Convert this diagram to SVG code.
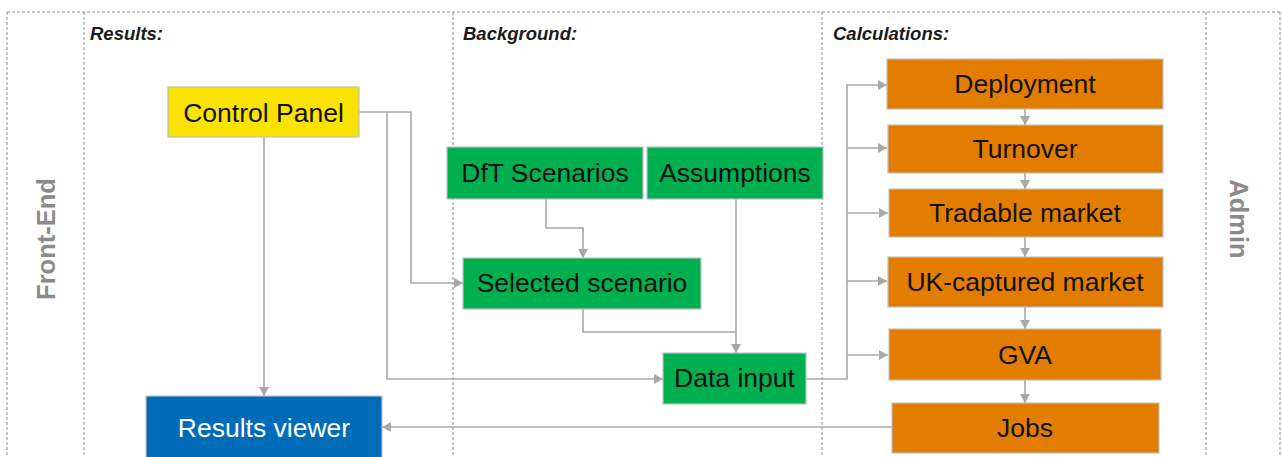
<svg xmlns="http://www.w3.org/2000/svg" width="1282" height="457" viewBox="0 0 1282 457">
  <style>
    .lane { stroke: #8c8c8c; stroke-width: 1; stroke-dasharray: 3 2; fill: none; }
    .head { font-family: "Liberation Sans", Arial, sans-serif; font-size: 18.5px; font-weight: bold; font-style: italic; fill: #1a1a1a; }
    .side { font-family: "Liberation Sans", Arial, sans-serif; font-size: 25.5px; font-weight: bold; fill: #8a8a8a; text-anchor: middle; }
    .box { stroke: #c0c0c0; stroke-width: 1.2; }
    .yellow { fill: #fbe300; }
    .green { fill: #00b050; }
    .orange { fill: #e27d00; }
    .blue { fill: #006cb7; }
    .lbl { font-family: "Liberation Sans", Arial, sans-serif; font-size: 26.5px; fill: #111111; text-anchor: middle; }
    .lbl.white { fill: #ffffff; }
    .conn { stroke: #a8a8a8; stroke-width: 1.6; fill: none; }
  </style>
  <defs>
    <marker id="arrow" markerUnits="userSpaceOnUse" markerWidth="9" markerHeight="10" refX="9" refY="5" orient="auto">
      <path d="M0,0 L9,5 L0,10 z" fill="#a8a8a8"/>
    </marker>
  </defs>

  <rect width="1282" height="457" fill="#ffffff"/>

  <!-- swim-lane frame -->
  <g id="lanes">
    <line class="lane" x1="7" y1="12" x2="1281" y2="12"/>
    <line class="lane" x1="7" y1="12" x2="7" y2="457"/>
    <line class="lane" x1="84" y1="12" x2="84" y2="457"/>
    <line class="lane" x1="453" y1="12" x2="453" y2="457"/>
    <line class="lane" x1="822" y1="12" x2="822" y2="457"/>
    <line class="lane" x1="1206" y1="12" x2="1206" y2="457"/>
    <line class="lane" x1="1280" y1="12" x2="1280" y2="457"/>
  </g>

  <!-- lane headings -->
  <g id="headings">
    <text class="head" x="90" y="40">Results:</text>
    <text class="head" x="463" y="40">Background:</text>
    <text class="head" x="833" y="40">Calculations:</text>
    <text class="side" transform="translate(55,239) rotate(-90)">Front-End</text>
    <text class="side" transform="translate(1230,219) rotate(90)">Admin</text>
  </g>

  <!-- connectors -->
  <g id="connectors">
    <path class="conn" d="M264,137 V396" marker-end="url(#arrow)"/>
    <path class="conn" d="M359,112 H411 V283 H463" marker-end="url(#arrow)"/>
    <path class="conn" d="M387,112 V379 H663" marker-end="url(#arrow)"/>
    <path class="conn" d="M546,199 V228 H583 V258" marker-end="url(#arrow)"/>
    <path class="conn" d="M736,199 V353" marker-end="url(#arrow)"/>
    <path class="conn" d="M583,309 V332 H736"/>
    <path class="conn" d="M806,379 H847 V85 H887" marker-end="url(#arrow)"/>
    <path class="conn" d="M847,148 H887" marker-end="url(#arrow)"/>
    <path class="conn" d="M847,213 H888" marker-end="url(#arrow)"/>
    <path class="conn" d="M847,281 H887" marker-end="url(#arrow)"/>
    <path class="conn" d="M847,355 H888" marker-end="url(#arrow)"/>
    <path class="conn" d="M1025,109 V125" marker-end="url(#arrow)"/>
    <path class="conn" d="M1025,173 V189" marker-end="url(#arrow)"/>
    <path class="conn" d="M1025,237 V257" marker-end="url(#arrow)"/>
    <path class="conn" d="M1025,307 V329" marker-end="url(#arrow)"/>
    <path class="conn" d="M1025,380 V403" marker-end="url(#arrow)"/>
    <path class="conn" d="M892,427 H382" marker-end="url(#arrow)"/>
  </g>

  <!-- front-end nodes -->
  <g id="control-panel">
    <rect class="box yellow" x="168" y="87" width="191" height="50"/>
    <text class="lbl" x="263.5" y="121.5">Control Panel</text>
  </g>
  <g id="results-viewer">
    <rect class="box blue" x="146" y="396" width="236" height="70"/>
    <text class="lbl white" x="264" y="437">Results viewer</text>
  </g>

  <!-- background nodes -->
  <g id="dft-scenarios">
    <rect class="box green" x="447" y="147" width="196" height="52"/>
    <text class="lbl" x="545" y="182">DfT Scenarios</text>
  </g>
  <g id="assumptions">
    <rect class="box green" x="647" y="147" width="176" height="52"/>
    <text class="lbl" x="735" y="182">Assumptions</text>
  </g>
  <g id="selected-scenario">
    <rect class="box green" x="463" y="258" width="238" height="51"/>
    <text class="lbl" x="582" y="292">Selected scenario</text>
  </g>
  <g id="data-input">
    <rect class="box green" x="663" y="353" width="143" height="51"/>
    <text class="lbl" x="734.5" y="387">Data input</text>
  </g>

  <!-- calculation nodes -->
  <g id="deployment">
    <rect class="box orange" x="887" y="59" width="276" height="50"/>
    <text class="lbl" x="1025" y="93">Deployment</text>
  </g>
  <g id="turnover">
    <rect class="box orange" x="888" y="125" width="275" height="48"/>
    <text class="lbl" x="1025" y="158">Turnover</text>
  </g>
  <g id="tradable-market">
    <rect class="box orange" x="889" y="189" width="274" height="48"/>
    <text class="lbl" x="1025" y="222">Tradable market</text>
  </g>
  <g id="uk-captured-market">
    <rect class="box orange" x="888" y="257" width="275" height="50"/>
    <text class="lbl" x="1025" y="291">UK-captured market</text>
  </g>
  <g id="gva">
    <rect class="box orange" x="889" y="329" width="272" height="51"/>
    <text class="lbl" x="1025" y="364">GVA</text>
  </g>
  <g id="jobs">
    <rect class="box orange" x="892" y="403" width="267" height="50"/>
    <text class="lbl" x="1025" y="437">Jobs</text>
  </g>
</svg>
